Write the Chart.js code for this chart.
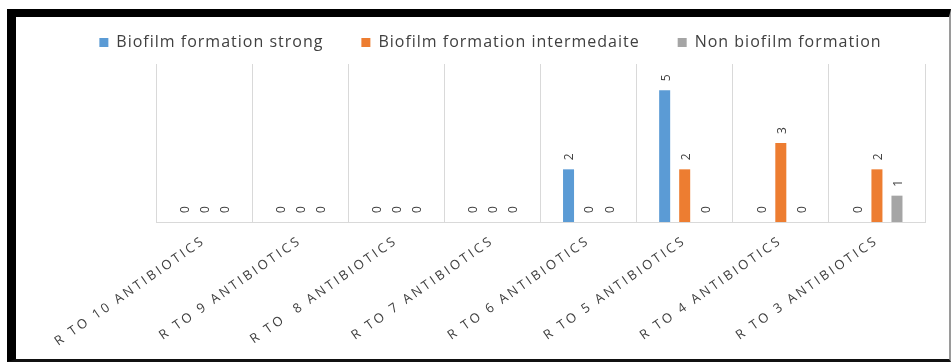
<!DOCTYPE html>
<html>
<head>
<meta charset="utf-8">
<script src="https://cdn.jsdelivr.net/npm/chart.js@4.4.1/dist/chart.umd.min.js"></script>
<style>
  html, body { margin: 0; padding: 0; background: #ffffff; }
  body { width: 951px; height: 362px; overflow: hidden; position: relative; }
  #frame {
    position: absolute; left: 7px; top: 9px;
    width: 933px; height: 342px;
    border-left: 9px solid #000; border-top: 8px solid #000;
    border-bottom: 3px solid #111; border-right: 2px solid #9a9a9a;
    background: #fff;
  }
  canvas { display: block; }
</style>
</head>
<body>
<div id="frame"><canvas id="chart" width="933" height="342"></canvas></div>
<script>
// Resistance groups (x categories)
const categories = [
  'R TO 10 ANTIBIOTICS',
  'R TO 9 ANTIBIOTICS',
  'R TO  8 ANTIBIOTICS',
  'R TO 7 ANTIBIOTICS',
  'R TO 6 ANTIBIOTICS',
  'R TO 5 ANTIBIOTICS',
  'R TO 4 ANTIBIOTICS',
  'R TO 3 ANTIBIOTICS'
];

// Isolate counts per biofilm class
const strong       = [0, 0, 0, 0, 2, 5, 0, 0];
const intermediate = [0, 0, 0, 0, 0, 2, 3, 2];
const nonForming   = [0, 0, 0, 0, 0, 0, 0, 1];

const seriesNames = [
  'Biofilm formation strong',
  'Biofilm formation intermedaite',
  'Non biofilm formation'
];

const TEXT = '#404040';
const FONT = '"Open Sans", "Liberation Sans", sans-serif';

// Run a drawing/measuring method with extra tracking on the canvas text
function withSpacing(obj, name, spacing) {
  const orig = obj[name];
  obj[name] = function (...args) {
    const c = this.ctx;
    const prev = c.letterSpacing;
    c.letterSpacing = spacing;
    const r = orig.apply(this, args);
    c.letterSpacing = prev;
    return r;
  };
}

// Rotated value labels above each bar
const valueLabels = {
  id: 'valueLabels',
  afterDatasetsDraw(chart) {
    const ctx = chart.ctx;
    ctx.save();
    ctx.font = '12px ' + FONT;
    ctx.fillStyle = TEXT;
    ctx.textAlign = 'left';
    ctx.textBaseline = 'middle';
    chart.data.datasets.forEach((ds, i) => {
      const meta = chart.getDatasetMeta(i);
      meta.data.forEach((bar, j) => {
        const p = bar.getProps(['x', 'y'], true);
        ctx.save();
        ctx.translate(p.x + 1.5, p.y - 9);
        ctx.rotate(-Math.PI / 2);
        ctx.fillText(String(ds.data[j]), 0, 0);
        ctx.restore();
      });
    });
    ctx.restore();
  }
};

// Legend: slightly tracked text and a little extra room below the row
const legendStyle = {
  id: 'legendStyle',
  afterInit(chart) {
    const legend = chart.legend;
    withSpacing(legend, 'fit', '1px');
    withSpacing(legend, 'draw', '1px');
    const fit = legend.fit;
    legend.fit = function () { fit.call(this); this.height += 3.5; };
  }
};

new Chart(document.getElementById('chart'), {
  type: 'bar',
  data: {
    labels: categories,
    datasets: [
      { label: seriesNames[0], data: strong,       backgroundColor: '#5B9BD5', borderWidth: 0 },
      { label: seriesNames[1], data: intermediate, backgroundColor: '#ED7D31', borderWidth: 0 },
      { label: seriesNames[2], data: nonForming,   backgroundColor: '#A5A5A5', borderWidth: 0 }
    ]
  },
  options: {
    responsive: false,
    animation: false,
    devicePixelRatio: 1,
    layout: { padding: { top: -20.5, left: 16, right: 0, bottom: 0 } },
    datasets: { bar: { categoryPercentage: 0.625, barPercentage: 0.55 } },
    plugins: {
      legend: {
        position: 'top',
        align: 'center',
        labels: {
          boxWidth: 9, boxHeight: 9, padding: 38,
          color: TEXT,
          font: { family: FONT, size: 16 }
        }
      },
      tooltip: { enabled: false }
    },
    scales: {
      x: {
        grid: { color: '#d9d9d9', lineWidth: 1, drawTicks: false, offset: true },
        border: { color: '#d9d9d9' },
        ticks: {
          autoSkip: false, minRotation: 35, maxRotation: 35, padding: 11,
          color: TEXT, font: { family: FONT, size: 13 }
        },
        afterFit(scale) {
          scale.paddingLeft = 140;
          scale.paddingRight = 24;
          scale.paddingTop = 0;
          scale.paddingBottom = 0;
          scale.height = 137;
          if (!scale._spaced) {
            withSpacing(scale, 'drawLabels', '2.8px');
            scale._spaced = true;
          }
        }
      },
      y: { display: false, min: 0, max: 6 }
    }
  },
  plugins: [valueLabels, legendStyle]
});
</script>
</body>
</html>
